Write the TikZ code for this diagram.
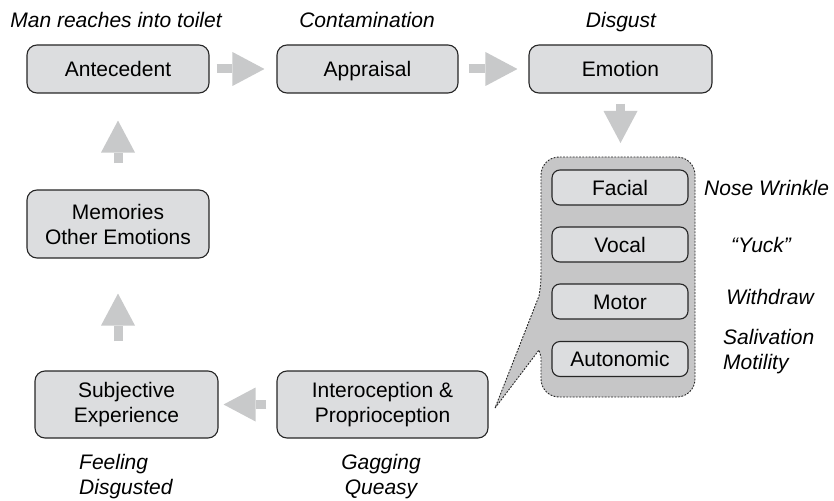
\documentclass[tikz,border=0pt]{standalone}
\usepackage{fontspec}
\setmainfont{Liberation Sans}
\usetikzlibrary{arrows.meta}
\definecolor{boxfill}{HTML}{DCDDDF}
\definecolor{callfill}{HTML}{C6C6C7}
\definecolor{arrowc}{HTML}{C8C9CA}
\definecolor{edgec}{HTML}{262626}
\begin{document}
\begin{tikzpicture}[x=1pt,y=-1pt,
  font=\fontsize{21}{25}\selectfont,
  stagebox/.style={draw=edgec, line width=1.1pt, fill=boxfill, rounded corners=10pt,
    align=center, inner sep=0pt, text height=15.2pt, text depth=0pt},
  twobox/.style={draw=edgec, line width=1.1pt, fill=boxfill, rounded corners=10pt,
    align=center, inner sep=0pt},
  subbox/.style={stagebox, minimum width=136pt, minimum height=35pt, rounded corners=8pt},
  lbl/.style={inner sep=0pt, font=\fontsize{21}{25}\selectfont\itshape},
  bigarr/.style={draw=arrowc, line width=9pt,
    -{Triangle[length=32pt,width=34pt,line width=0pt]}},
  calloutpath/.style={fill=callfill, draw=edgec, line width=0.9pt,
    dash pattern=on 1.8pt off 1.4pt}
]
\useasboundingbox (0,0) rectangle (834,500);

% callout
\path[calloutpath] (495,408) -- (539,350) -- (541,357) -- (541,379)
  .. controls (541,388.9) and (549.1,397) .. (559,397) -- (677,397)
  .. controls (686.9,397) and (695,388.9) .. (695,379) -- (695,175)
  .. controls (695,165.1) and (686.9,157) .. (677,157) -- (559,157)
  .. controls (549.1,157) and (541,165.1) .. (541,175) -- (541,260)
  .. controls (541,283) .. (539,296) -- cycle;
\coordinate (ctop) at (620.5,157);

% main boxes
\node[stagebox, minimum width=182pt, minimum height=48pt] (ante) at (118,69) {Antecedent};
\node[stagebox, minimum width=181pt, minimum height=48pt] (appr) at (367.5,69) {Appraisal};
\node[stagebox, minimum width=183pt, minimum height=48pt] (emo) at (620.5,69) {Emotion};
\node[twobox, minimum width=182pt, minimum height=68pt] (mem) at (118,224) {Memories\\Other Emotions};
\node[twobox, minimum width=183pt, minimum height=67pt] (subj) at (126.5,404.5) {Subjective\\Experience};
\node[twobox, minimum width=211pt, minimum height=67pt] (intero) at (382.5,404.5) {Interoception \&\\Proprioception};

% sub boxes
\node[subbox] (facial) at (620,187.5) {Facial};
\node[subbox] (vocal) at (620,244.5) {Vocal};
\node[subbox] (motor) at (620,301.5) {Motor};
\node[subbox] (autonomic) at (620,359) {Autonomic};

% arrows
\draw[bigarr, shorten <=7pt, shorten >=12pt] (ante.east) -- (appr.west);
\draw[bigarr, shorten <=10pt, shorten >=11pt] (appr.east) -- (emo.west);
\draw[bigarr, shorten <=10pt, shorten >=14pt] (emo.south) -- (ctop);
\draw[bigarr, shorten <=10pt, shorten >=5pt] (intero.west) -- (subj.east);
\draw[bigarr, shorten <=29pt, shorten >=35pt] (subj.north -| mem.south) -- (mem.south);
\draw[bigarr, shorten <=26pt, shorten >=27pt] (mem.north) -- (ante.south);

% labels
\node[lbl, anchor=base] (l1) at (116,27.5) {Man reaches into toilet};
\node[lbl, anchor=base] (l2) at (367,27.5) {Contamination};
\node[lbl, anchor=base] (l3) at (621,27.5) {Disgust};
\node[lbl, anchor=base west] (l4) at (704,195.5) {Nose Wrinkle};
\node[lbl, anchor=base] (l5) at (761,252.5) {“Yuck”};
\node[lbl, anchor=base] (l6) at (770,304.5) {Withdraw};
\node[lbl, anchor=west, align=left] (l7) at (723,352) {Salivation\\Motility};
\node[lbl, anchor=west, align=left] (l8) at (79,476.5) {Feeling\\Disgusted};
\node[lbl, align=center] (l9) at (381,476.5) {Gagging\\Queasy};
\end{tikzpicture}
\end{document}
